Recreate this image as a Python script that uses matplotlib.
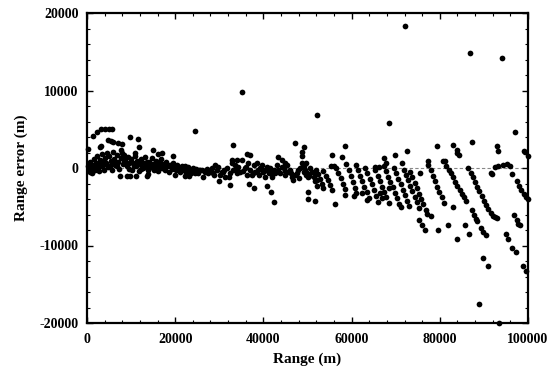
import matplotlib
matplotlib.use("Agg")
import matplotlib.pyplot as plt
from matplotlib.ticker import MultipleLocator

plt.rcParams['axes.unicode_minus'] = False

# ---- data (range m, range error m) ----
band_left_x = [200, 400, 700, 900, 1100, 1400, 1600, 1800, 2100, 2300, 2500, 2800, 3000, 3300, 3500, 3800,
               4000, 4300, 4600, 4800, 5100, 5400, 5600, 5900, 6200, 6400, 6700, 7000, 7300, 7600, 7800,
               8100, 8400, 8700, 9000, 9300, 9600, 9900, 10200, 10500, 10800, 11100, 11400, 11700, 12000,
               12300, 12600, 12900, 13200, 13500, 13800, 14100, 14400, 14700, 15000, 15300, 15600, 15900,
               16200, 16500, 16800, 17100, 17400, 17700, 18000, 18300, 18600, 18900, 19200, 19500, 19800,
               20100, 20400, 20800, 21200, 21600, 22000, 22400, 22800, 23200, 23600, 24000, 24400, 24800,
               25200, 25600,
               600, 1300, 2000, 2700, 3600, 4500, 5300, 6100, 6900, 8300, 9500, 10700, 12200, 13600,
               14900, 16300, 17600, 19000, 20600, 21400, 22200, 23000, 23800, 24600, 25400]
band_left_y = [300, -300, 800, 100, -600, 400, 1100, -200, 700, 1500, 100, -400, 1000, 1800, 300, -200,
               1300, 700, 2000, 100, 1500, 900, -300, 2100, 1200, 400, 1700, 800, -100, 2300, 1300,
               500, 1700, 900, 200, 1400, 600, 1100, -200, 700, 1500, 200, 900, -400, 500,
               1200, 0, 700, 1400, 300, -300, 800, 200, 1300, 500, -200, 900, 300,
               -400, 600, 1100, 0, 500, -300, 800, 200, -500, 400, -100, 700, 100,
               -300, 400, -100, -500, 200, -200, -600, 100, -300, -700, 0, -400, -100,
               -600, -300,
               -500, 0, 300, 600, 900, 400, 200, 700, 300, 1000, -100, 300, -100, 800,
               0, 300, 100, 300, 100, -300, 200, -500, -200, -600, -200]

upper_left_x = [150, 1300, 2200, 3100, 4100, 5100, 5600, 3200, 2950, 4700, 5450, 6000, 7100, 7900,
                9800, 11600, 11900, 10900, 7900, 15000, 16200, 19400, 17100]
upper_left_y = [2400, 4100, 4700, 5000, 5000, 5000, 5000, 2850, 2750, 3600, 3500, 3400, 3200, 3100,
                4000, 3800, 2750, 2000, 1900, 2300, 1800, 1550, 1900]

lower_left_x = [7500, 9000, 9750, 11050, 13550, 13900, 20000, 22200, 23100]
lower_left_y = [-1000, -1000, -1000, -1000, -1000, -800, -900, -1000, -1000]

band_mid_x = [26000, 26800, 27500, 28300, 29100, 29400, 30200, 30900, 31700, 32800, 33200, 34000, 34300,
              35100, 35900, 37000, 37800, 38500, 39300, 40000, 40800, 41500, 42300, 43100, 43800, 44600,
              45300, 46100, 47200, 48400, 49100, 50200, 51400, 52100,
              26400, 28800, 29800, 31300, 32100, 33600, 34700, 36300, 36600, 37400, 38100, 38900, 39700,
              40400, 41200, 41900, 42700, 44200, 44900, 45700, 46500, 46800, 47600, 48000,
              27100, 27900, 28600, 30500, 31100, 32400, 33900, 35400, 36000, 37600, 38700, 39900, 41000,
              42000, 43400, 45000, 46300, 47800, 49600]
band_mid_y = [-260, -470, -690, -50, 390, -260, -900, -470, -50, 600, -260, -690, 170,
              1030, -50, -260, 390, 600, -50, -470, 170, -50, -260, 390, -690, -50,
              390, -260, -900, -50, -470, -1120, -470, -1550,
              -1120, -900, 170, -1120, -1120, 390, -470, -900, 600, -900, -470, -900, 390,
              -1120, -690, -1120, -690, 170, -900, -470, -1120, -1550, -690, -1340,
              -100, -400, -600, -500, -200, -700, -300, -400, 100, -600, -300, -200, -400,
              -500, -300, -400, -600, -200, -900]

stripe_x = [48700, 49100, 49500, 49900, 50300,
            50600, 51000, 51400, 51800, 52200,
            52000, 52400, 52800, 53200, 53600,
            53600, 54100, 54600, 55100, 55600,
            55400, 56000, 56500, 57000, 57500, 58000, 58500,
            58800, 59300, 59800, 60300, 60800, 61100,
            60900, 61400, 61900, 62400, 62900, 63400, 63900,
            63100, 63600, 64100, 64600, 65100, 65600, 66000,
            65400, 65900, 66400, 66900, 67400, 67900, 68400,
            67300, 67800, 68300, 68800, 69300, 69800, 70300, 70800, 71100,
            69600, 70100, 70600, 71100, 71600, 72100, 72600, 73000,
            71800, 72300, 72800, 73300, 73800, 74300, 74800, 75200,
            73300, 73800, 74300, 74800, 75300, 75800, 76300, 76800, 77200,
            77400, 77900, 78400, 78900, 79400, 79900, 80400, 80900,
            81500, 82000, 82500, 83000, 83500, 84000, 84500, 85000, 85500, 86000,
            86500, 87000, 87500, 88000, 88500, 89000, 89500, 90000, 90500, 91000, 91500, 92000, 92500, 93000,
            97500, 98000, 98500, 99000, 99500, 100000]
stripe_y = [700, 250, -200, -600, -1000,
            0, -500, -1100, -1700, -2300,
            -200, -800, -1400, -2000, -2600,
            -400, -1000, -1600, -2200, -2800,
            300, 300, 0, -600, -1300, -2000, -2700,
            500, -200, -1000, -1800, -2600, -3200,
            400, -300, -1000, -1700, -2400, -3100, -3900,
            0, -700, -1400, -2100, -2800, -3600, -4400,
            -300, -1000, -1700, -2400, -3100, -3800, -4500,
            300, -400, -1100, -1800, -2500, -3200, -3900, -4600, -5000,
            0, -700, -1400, -2100, -2800, -3500, -4200, -4900,
            -200, -900, -1600, -2300, -3000, -3700, -4400, -5100,
            -500, -1200, -1900, -2600, -3300, -4000, -4700, -5400, -5900,
            400, -300, -1000, -1700, -2400, -3100, -3800, -4500,
            300, -200, -700, -1200, -1800, -2300, -2800, -3300, -3800, -4300,
            0, -600, -1200, -1800, -2400, -3000, -3600, -4200, -4800, -5300, -5800, -6200, -6300, -6400,
            -1700, -2300, -2800, -3300, -3800, -4000]

upper_x = [24500, 35100, 52200, 68500, 72000, 86900, 94000, 97000, 33200, 47200, 49300, 48700, 49700,
           55500, 57800, 58400, 67300, 67900, 69800, 72500, 79300, 83100, 83800, 84400, 87300, 93000,
           93300, 99100, 100000, 65400, 66100, 71400, 36200, 37000, 43400, 44200, 44900, 32800, 34000,
           48700, 92500, 93300, 94400, 95200, 95900, 91800, 96300, 77400, 80800, 81200, 75500, 91600,
           83900, 99300]
upper_y = [4800, 9850, 6850, 5750, 18300, 14800, 14200, 4600, 2950, 3200, 2650, 1550, 700,
           1650, 1400, 2800, 1330, 680, 1650, 2200, 2850, 2950, 2350, 1700, 3400, 2850,
           2250, 2250, 1550, 100, 100, 600, 1800, 1700, 1450, 1030, 600, 1030, 1030,
           2100, 100, 300, 400, 500, 200, -800, -800, 950, 950, 950, -700, -700,
           1900, 2100]

lower_x = [30000, 32500, 36800, 37900, 40900, 41800, 42400, 50200, 50000, 51800, 56300, 58600, 60500,
           62400, 63500, 66400, 66900, 68400,
           75200, 75900, 76700, 78100, 79500, 81800, 83100, 83900, 85700, 86700,
           87200, 87700, 88200, 88500, 89400, 89900, 90400, 89900, 91000, 88900, 93500,
           95100, 95400, 96300, 97300, 98800, 99600, 96900, 97500, 97800, 98100]
lower_y = [-1650, -2200, -2050, -2550, -2300, -3050, -4450, -3150, -4000, -4300, -4650, -3500, -3600,
           -3250, -4100, -3200, -3900, -2600,
           -6700, -7350, -8000, -6200, -8000, -7350, -5000, -9150, -7350, -8550,
           -5400, -6000, -6600, -6900, -7700, -8200, -8700, -11550, -12700, -17600, -20000,
           -8550, -9200, -10300, -10900, -12700, -13300, -6050, -6700, -7200, -7350]

x_ticks = [0, 20000, 40000, 60000, 80000, 100000]
y_ticks = [-20000, -10000, 0, 10000, 20000]

# ---- figure ----
fig = plt.figure(figsize=(5.49, 3.80), dpi=100)
ax = fig.add_axes([87/549, 1-323/380, (528-87)/549, (323-13)/380])

ax.axhline(0, color='#888888', lw=0.8, ls=(0, (3, 2)), zorder=1)

groups = [(band_left_x, band_left_y), (upper_left_x, upper_left_y), (lower_left_x, lower_left_y),
          (band_mid_x, band_mid_y), (stripe_x, stripe_y), (upper_x, upper_y), (lower_x, lower_y)]
for gx, gy in groups:
    ax.scatter(gx, gy, s=17, color='black', linewidths=0, zorder=3, clip_on=False)

ax.set_xlim(0, 100000)
ax.set_ylim(-20000, 20000)
ax.set_xticks(x_ticks)
ax.set_yticks(y_ticks)
ax.xaxis.set_minor_locator(MultipleLocator(4000))
ax.yaxis.set_minor_locator(MultipleLocator(2000))
ax.tick_params(which='both', direction='in', top=True, right=True, color='black')
ax.tick_params(which='major', length=4, width=1)
ax.tick_params(which='minor', length=2.5, width=0.8)
for sp in ax.spines.values():
    sp.set_linewidth(1.6)

tick_font = dict(family='Liberation Serif', weight='bold', size=10)
ax.set_xticklabels([str(v) for v in x_ticks], fontdict=tick_font)
ax.set_yticklabels([str(v) for v in y_ticks], fontdict=tick_font)
ax.tick_params(axis='x', pad=7)
ax.tick_params(axis='y', pad=6)

ax.set_xlabel('Range (m)', family='Liberation Serif', weight='bold', size=11, labelpad=5)
ax.set_ylabel('Range error (m)', family='Liberation Serif', weight='bold', size=11, labelpad=8)

fig.savefig('out.png', dpi=100)
